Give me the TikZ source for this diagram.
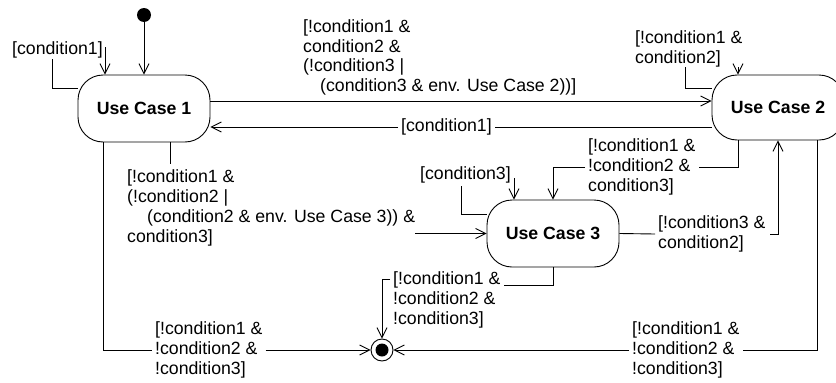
\documentclass[tikz,border=0pt]{standalone}
\usepackage{fontspec}
\setmainfont{Liberation Sans}
\usetikzlibrary{arrows.meta}
\begin{document}
\begin{tikzpicture}[x=1pt,y=-1pt,
  state/.style={draw, line width=0.9pt, rounded corners=25pt, inner sep=0pt,
    minimum width=132pt, minimum height=67pt,
    font=\bfseries\fontsize{17.7}{19.5}\selectfont},
  guard/.style={align=left, anchor=west, inner xsep=3pt, inner ysep=0pt,
    font=\fontsize{17.7}{19.8}\selectfont},
  wire/.style={line width=0.9pt},
  flow/.style={line width=0.9pt, -{Straight Barb[length=10pt,width=10pt,line width=0.9pt]}},
]
\useasboundingbox (0,0) rectangle (836,383);

% states
\node[state] (uc1) at (144,108.5) {Use Case 1};
\node[state, minimum height=65pt] (uc2) at (778,107.5) {Use Case 2};
\node[state] (uc3) at (553,233.5) {Use Case 3};

% initial and final pseudo-states
\node[circle, fill=black, inner sep=0pt, minimum size=14pt] (init) at (144,15) {};
\node[circle, draw, line width=0.9pt, fill=white, inner sep=0pt, minimum size=22pt] (fin) at (382,350) {};
\fill (fin.center) circle[radius=6.5];

% guards
\node[guard] (g1) at (9,50) {[condition1]};
\node[guard] (g2) at (300,57.5) {[!condition1 \&\\condition2 \&\\(!condition3 |\\\hspace*{17pt}(condition3 \& env. Use Case 2))]};
\node[guard] (g3) at (398,127) {[condition1]};
\node[guard] (g4) at (632,49) {[!condition1 \&\\condition2]};
\node[guard] (g5) at (124,208) {[!condition1 \&\\(!condition2 |\\\hspace*{20pt}(condition2 \& env. Use Case 3)) \&\\condition3]};
\node[guard] (g6) at (585,167) {[!condition1 \&\\!condition2 \&\\condition3]};
\node[guard] (g7) at (417,175) {[condition3]};
\node[guard] (g8) at (655,234) {[!condition3 \&\\condition2]};
\node[guard] (g9) at (390,300) {[!condition1 \&\\!condition2 \&\\!condition3]};
\node[guard] (g10) at (152,350) {[!condition1 \&\\!condition2 \&\\!condition3]};
\node[guard] (g11) at (629,350) {[!condition1 \&\\!condition2 \&\\!condition3]};

% bend points
\coordinate (g1in) at (105,47);
\coordinate (g4in) at (738,67);
\coordinate (g5out) at (415,233.5);
\coordinate (g7in) at (514,178);
\coordinate (g8out) at (770,234);
\coordinate (g9in) at (504,285);
\coordinate (g9out) at (390,279);

% transitions
\draw[flow] (init) -- (uc1);

\draw[wire] (uc1.west |- 0,88) -| (52,59);
\draw[flow] (g1in) -- (g1in |- uc1.north);

\draw[flow] (uc1.east |- 0,101) -- (uc2.west |- 0,101);

\draw[wire] (uc2.west |- 0,127) -- (g3.east);
\draw[flow] (g3.west) -- (uc1.east |- 0,127);

\draw[wire] (uc2.west |- 0,88) -| (685,67);
\draw[flow] (g4in) -- (g4in |- uc2.north);

\draw[wire] (uc1.south -| 170,0) -- (170,164);
\draw[flow] (g5out) -- (uc3.west);

\draw[wire] (uc2.south -| 738,0) |- (g6.east);
\draw[flow] (g6.west) -| (uc3.north);

\draw[wire] (uc3.west |- 0,214) -| (461,186);
\draw[flow] (g7in) -- (g7in |- uc3.north);

\draw[wire] (uc3.east) -- (g8.west);
\draw[flow] (g8out) -| (uc2.south -| 778,0);

\draw[wire] (uc3.south) |- (g9in);
\draw[flow] (g9out) -| (fin.north);

\draw[wire] (uc1.south -| 103,0) |- (g10.west);
\draw[flow] (g10.east) -- (fin.west);

\draw[wire] (uc2.south -| 817,0) |- (g11.east);
\draw[flow] (g11.west) -- (fin.east);
\end{tikzpicture}
\end{document}
